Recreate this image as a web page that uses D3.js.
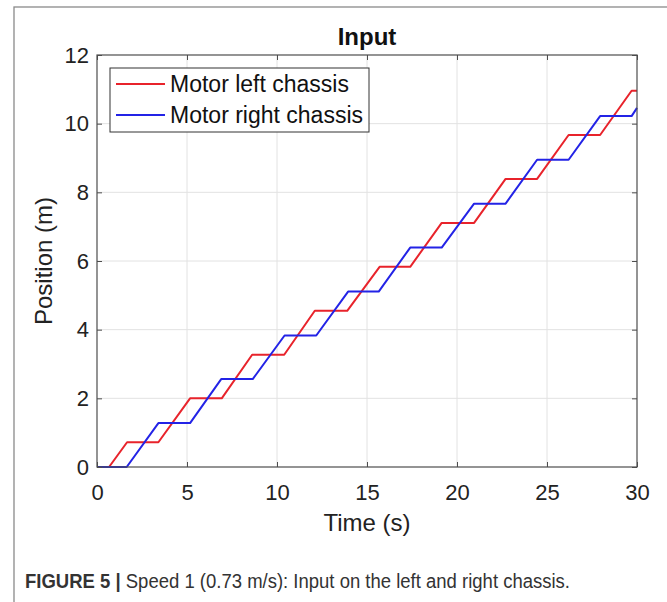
<!DOCTYPE html>
<html>
<head>
<meta charset="utf-8">
<script src="https://cdn.jsdelivr.net/npm/d3@7"></script>
<style>
  body { margin: 0; background: #fff; }
  svg { display: block; font-family: "Liberation Sans", Arial, sans-serif; }
</style>
</head>
<body>
<svg id="chart" width="667" height="602"></svg>
<script>
// ── Data ──────────────────────────────────────────────────────────────────
const LEFT_T   = [0, 0.67, 1.67, 3.41, 5.17, 6.93, 8.62, 10.4, 12.1, 13.9, 15.7, 17.4, 19.15, 20.95, 22.7, 24.45, 26.2, 27.95, 29.7, 30];
const LEFT_POS = [0, 0, 0.72, 0.72, 2.0, 2.0, 3.27, 3.27, 4.55, 4.55, 5.83, 5.83, 7.11, 7.11, 8.39, 8.39, 9.67, 9.67, 10.96, 10.96];
const RIGHT_T   = [0, 1.65, 3.41, 5.17, 6.9, 8.65, 10.42, 12.18, 13.95, 15.65, 17.4, 19.15, 20.95, 22.7, 24.45, 26.2, 27.95, 29.7, 30];
const RIGHT_POS = [0, 0, 1.28, 1.28, 2.56, 2.56, 3.83, 3.83, 5.11, 5.11, 6.39, 6.39, 7.67, 7.67, 8.95, 8.95, 10.22, 10.22, 10.46];
const X_TICKS = [0, 5, 10, 15, 20, 25, 30];
const Y_TICKS = [0, 2, 4, 6, 8, 10, 12];
const SERIES = [
    { label: "Motor left chassis",  color: "#e8232b", t: LEFT_T,  pos: LEFT_POS },
    { label: "Motor right chassis", color: "#2323e6", t: RIGHT_T, pos: RIGHT_POS },
];

const margin = { top: 55, left: 97 };
const innerW = 540, innerH = 412;
const AXIS_COLOR = "#4d4d4d";

const svg = d3.select("#chart");

// outer figure frame (runs off the right/bottom edge)
svg.append("rect")
    .attr("x", 14).attr("y", 7).attr("width", 700).attr("height", 700)
    .attr("fill", "none").attr("stroke", "#8a8a8a").attr("stroke-width", 1.3);

const g = svg.append("g").attr("transform", `translate(${margin.left},${margin.top})`);

const x = d3.scaleLinear().domain([0, 30]).range([0, innerW]);
const y = d3.scaleLinear().domain([0, 12]).range([innerH, 0]);

// grid
g.append("g").selectAll("line").data(X_TICKS.slice(1, -1)).join("line")
    .attr("x1", d => x(d)).attr("x2", d => x(d)).attr("y1", 0).attr("y2", innerH)
    .attr("stroke", "#e2e2e2").attr("stroke-width", 1);
g.append("g").selectAll("line").data(Y_TICKS.slice(1, -1)).join("line")
    .attr("y1", d => y(d)).attr("y2", d => y(d)).attr("x1", 0).attr("x2", innerW)
    .attr("stroke", "#e2e2e2").attr("stroke-width", 1);

// lines
const line = d3.line().x(d => x(d[0])).y(d => y(d[1]));
SERIES.forEach(s => {
    g.append("path")
        .datum(s.t.map((t, i) => [t, s.pos[i]]))
        .attr("fill", "none")
        .attr("stroke", s.color)
        .attr("stroke-width", 2)
        .attr("stroke-linejoin", "round")
        .attr("d", line);
});

// axes: MATLAB style, inward ticks on all sides
const tickLen = 5;
g.append("g").attr("transform", `translate(0,${innerH})`)
    .call(d3.axisBottom(x).tickValues(X_TICKS).tickSizeInner(-tickLen).tickSizeOuter(0).tickPadding(17))
    .call(a => a.select(".domain").remove());
g.append("g")
    .call(d3.axisTop(x).tickValues(X_TICKS).tickSizeInner(-tickLen).tickSizeOuter(0).tickFormat(""))
    .call(a => a.select(".domain").remove());
g.append("g")
    .call(d3.axisLeft(y).tickValues(Y_TICKS).tickSizeInner(-tickLen).tickSizeOuter(0).tickPadding(8))
    .call(a => a.select(".domain").remove());
g.append("g").attr("transform", `translate(${innerW},0)`)
    .call(d3.axisRight(y).tickValues(Y_TICKS).tickSizeInner(-tickLen).tickSizeOuter(0).tickFormat(""))
    .call(a => a.select(".domain").remove());

g.selectAll(".tick line").attr("stroke", AXIS_COLOR);
g.selectAll(".tick text")
    .attr("font-family", "Liberation Sans, Arial, sans-serif")
    .attr("font-size", 22).attr("fill", "#222");

g.append("rect")
    .attr("width", innerW).attr("height", innerH)
    .attr("fill", "none").attr("stroke", AXIS_COLOR).attr("stroke-width", 1.2);

// title and axis labels
g.append("text")
    .attr("x", innerW / 2).attr("y", -10)
    .attr("text-anchor", "middle")
    .attr("font-size", 24).attr("font-weight", "bold").attr("fill", "#111")
    .text("Input");
g.append("text")
    .attr("x", innerW / 2).attr("y", innerH + 64)
    .attr("text-anchor", "middle")
    .attr("font-size", 24).attr("fill", "#222")
    .text("Time (s)");
g.append("text")
    .attr("transform", `translate(-45,${innerH / 2}) rotate(-90)`)
    .attr("text-anchor", "middle")
    .attr("font-size", 24).attr("fill", "#222")
    .text("Position (m)");

// legend
const legend = g.append("g").attr("transform", "translate(13,13)");
legend.append("rect")
    .attr("width", 259).attr("height", 64)
    .attr("fill", "#fff").attr("stroke", "#333").attr("stroke-width", 1);
SERIES.forEach((s, i) => {
    const row = legend.append("g").attr("transform", `translate(0,${16 + i * 31})`);
    row.append("line")
        .attr("x1", 6).attr("x2", 55)
        .attr("stroke", s.color).attr("stroke-width", 2);
    row.append("text")
        .attr("x", 60).attr("dy", "0.36em")
        .attr("font-size", 23).attr("fill", "#111")
        .text(s.label);
});

// caption (condensed face in the original, squeezed to its width)
const cap = svg.append("text")
    .attr("x", 25).attr("y", 588)
    .attr("font-family", "Liberation Sans Narrow, Arial Narrow, Liberation Sans, sans-serif")
    .attr("font-size", 20).attr("fill", "#333")
    .attr("textLength", 545).attr("lengthAdjust", "spacingAndGlyphs");
cap.append("tspan").attr("font-weight", "bold").text("FIGURE 5 | ");
cap.append("tspan").text("Speed 1 (0.73 m/s): Input on the left and right chassis.");
</script>
</body>
</html>
